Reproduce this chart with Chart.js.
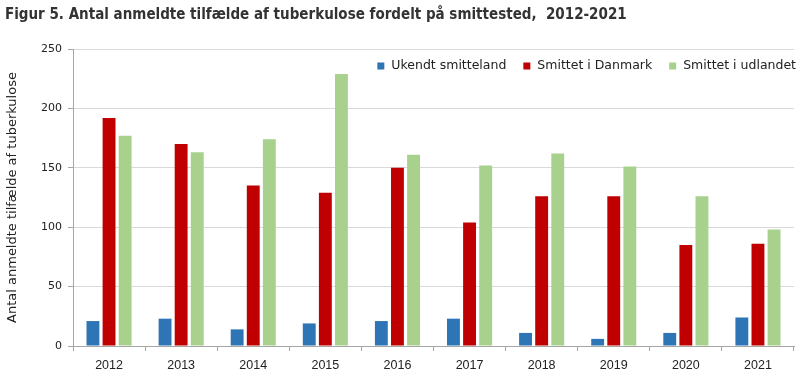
<!DOCTYPE html>
<html>
<head>
<meta charset="utf-8">
<script src="https://cdn.jsdelivr.net/npm/chart.js@4.4.1/dist/chart.umd.min.js"></script>
<style>
  html, body { margin: 0; padding: 0; background: #fff; }
  #wrap { width: 800px; height: 377px; }
</style>
</head>
<body>
<div id="wrap"><canvas id="c" width="800" height="377"></canvas></div>
<script>
const TITLE = "Figur 5. Antal anmeldte tilfælde af tuberkulose fordelt på smittested,  2012-2021";
const Y_TITLE = "Antal anmeldte tilfælde af tuberkulose";
const years = ["2012", "2013", "2014", "2015", "2016", "2017", "2018", "2019", "2020", "2021"];
const ukendt = [21, 23, 14, 19, 21, 23, 11, 6, 11, 24];
const danmark = [192, 170, 135, 129, 150, 104, 126, 126, 85, 86];
const udlandet = [177, 163, 174, 229, 161, 152, 162, 151, 126, 98];
const seriesNames = ["Ukendt smitteland", "Smittet i Danmark", "Smittet i udlandet"];
const seriesColors = ["#2e75b6", "#c00000", "#a9d18e"];

const LEGEND_FONT = "12.5px 'DejaVu Sans'";

// legend drawn inside the plot area, top right
const insideLegend = {
  id: "insideLegend",
  afterDraw(chart) {
    const ctx = chart.ctx;
    const sets = chart.data.datasets;
    ctx.save();
    ctx.font = LEGEND_FONT;
    ctx.textBaseline = "middle";
    const y = 66;
    let x = 796;
    for (let i = sets.length - 1; i >= 0; i--) {
      const w = ctx.measureText(sets[i].label).width;
      const tx = x - w;
      ctx.fillStyle = "#222";
      ctx.fillText(sets[i].label, tx, y);
      ctx.fillStyle = sets[i].backgroundColor;
      ctx.fillRect(tx - 14, y - 3.5, 7, 7);
      x = tx - 14 - 17;
    }
    ctx.restore();
  }
};

new Chart(document.getElementById("c"), {
  type: "bar",
  data: {
    labels: years,
    datasets: [
      { label: seriesNames[0], data: ukendt, backgroundColor: seriesColors[0] },
      { label: seriesNames[1], data: danmark, backgroundColor: seriesColors[1] },
      { label: seriesNames[2], data: udlandet, backgroundColor: seriesColors[2] }
    ]
  },
  options: {
    responsive: false,
    animation: false,
    devicePixelRatio: 1,
    categoryPercentage: 0.67,
    barPercentage: 0.8,
    layout: { padding: { left: 5, right: 6, top: 0, bottom: 0 } },
    plugins: {
      legend: { display: false },
      tooltip: { enabled: false },
      title: {
        display: true,
        text: TITLE,
        align: "start",
        color: "#333",
        font: { family: "'Liberation Sans Narrow', 'DejaVu Sans Condensed'", size: 15, weight: "bold" },
        padding: { top: 6, bottom: 25 }
      }
    },
    scales: {
      x: {
        grid: { display: true, drawOnChartArea: false, offset: true, tickLength: 5, color: "#a6a6a6" },
        border: { color: "#a6a6a6" },
        ticks: { color: "#222", font: { family: "'Liberation Sans'", size: 12.5 }, padding: 7 },
        afterFit(s) { s.height = 31; }
      },
      y: {
        min: 0,
        max: 250,
        ticks: { stepSize: 50, color: "#222", font: { family: "'DejaVu Sans'", size: 11 }, padding: 6 },
        grid: { color: "#d9d9d9", tickLength: 5, tickColor: "#a6a6a6" },
        border: { color: "#a6a6a6" },
        title: { display: true, text: Y_TITLE, color: "#222", font: { family: "'DejaVu Sans'", size: 13 }, padding: 0 },
        afterFit(s) { s.width = 68; }
      }
    }
  },
  plugins: [insideLegend]
});
</script>
</body>
</html>
